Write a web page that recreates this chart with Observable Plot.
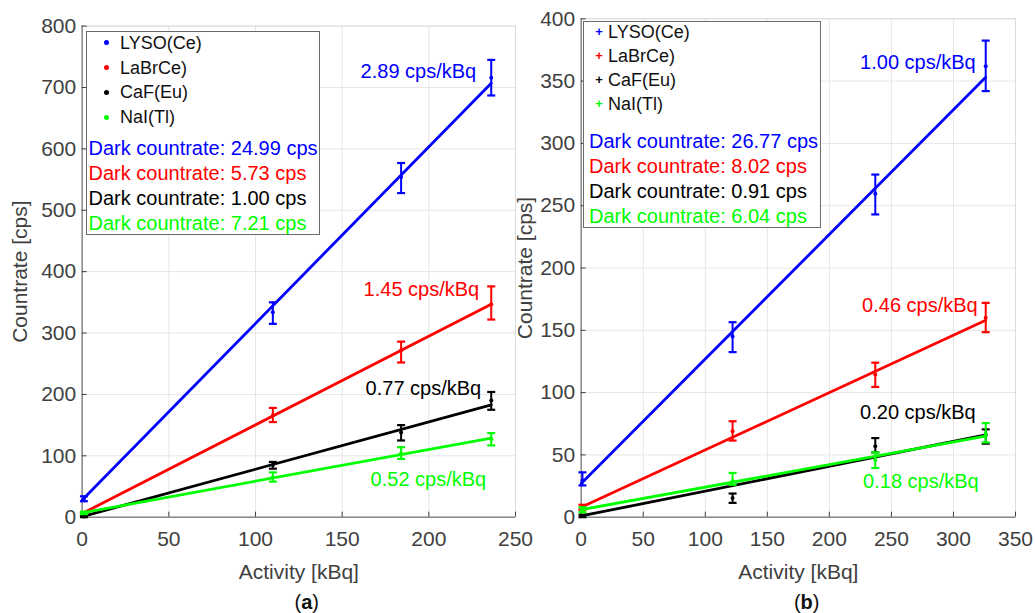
<!DOCTYPE html>
<html>
<head>
<meta charset="utf-8">
<script src="https://cdn.jsdelivr.net/npm/d3@7"></script>
<script src="https://cdn.jsdelivr.net/npm/@observablehq/plot@0.6"></script>
<style>
  body { margin: 0; background: #fff; font-family: "Liberation Sans", Arial, sans-serif; }
  #root { position: relative; width: 1035px; height: 613px; overflow: hidden; background: #fff; }
  .panel { position: absolute; top: 0; }
  .legend { position: absolute; border: 1.5px solid #6b6b6b; background: #fff; box-sizing: border-box; }
  .row { position: absolute; white-space: nowrap; line-height: 24px; height: 24px; }
  .item { font-size: 18px; color: #111; }
  .dark { font-size: 20px; }
  .mk { position: absolute; width: 5px; height: 5px; border-radius: 50%; }
  .plus { position: absolute; font-size: 13px; font-weight: bold; line-height: 13px; width: 10px; text-align: center; }
  .cap { position: absolute; font-size: 20px; color: #111; transform: translate(-50%, -50%); white-space: nowrap; }
</style>
</head>
<body>
<div id="root"></div>
<script>
// ---------- data ----------
const seriesNames = ["LYSO(Ce)", "LaBrCe)", "CaF(Eu)", "NaI(Tl)"];

// panel (a)
const activityA = [1, 110, 184, 236];
const countA = [[30, 334, 554, 716], [6, 166, 272, 347], [1, 85, 138, 190], [7, 65, 104, 127]];
const errLowA = [[26, 315, 528, 687], [4, 155, 252, 322], [0, 79, 125, 175], [5, 58, 95, 117]];
const errHighA = [[34, 350, 577, 745], [8, 178, 286, 376], [2, 90, 150, 204], [9, 73, 114, 137]];
const fitXA = [0, 236];
const fitYA = [[28, 707], [6, 347], [1, 183], [7, 129]];
const slopeA = ["2.89 cps/kBq", "1.45 cps/kBq", "0.77 cps/kBq", "0.52 cps/kBq"];
const darkA = ["24.99", "5.73", "1.00", "7.21"];
const xTicksA = [0, 50, 100, 150, 200, 250];
const yTicksA = [0, 100, 200, 300, 400, 500, 600, 700, 800];

// panel (b)
const activityB = [1, 122, 237, 326];
const countB = [[29.5, 145, 259.5, 362], [8, 69, 114.5, 160], [1, 15.5, 57, 66], [6, 29, 46, 67]];
const errLowB = [[25.5, 132.5, 243, 342], [6, 61.5, 104.5, 148.5], [0, 11.5, 52, 59], [4, 26, 39.5, 60]];
const errHighB = [[36, 156.5, 275, 382.5], [10, 77, 124, 172], [2, 19, 63.5, 70.5], [8, 35.5, 52, 75.5]];
const fitXB = [0, 326];
const fitYB = [[27, 353], [8, 158], [1, 66], [6, 65]];
const slopeB = ["1.00 cps/kBq", "0.46 cps/kBq", "0.20 cps/kBq", "0.18 cps/kBq"];
const darkB = ["26.77", "8.02", "0.91", "6.04"];
const xTicksB = [0, 50, 100, 150, 200, 250, 300, 350];
const yTicksB = [0, 50, 100, 150, 200, 250, 300, 350, 400];

// ---------- styling ----------
const palette = ["#0000ff", "#ff0000", "#000000", "#00ff00"];
const FONT = "'Liberation Sans', Arial, sans-serif";
const capSymbol = {
  draw(ctx, size) {
    const r = Math.sqrt(size / Math.PI);
    ctx.moveTo(-r, 0);
    ctx.lineTo(r, 0);
  }
};

function buildPanel(cfg) {
  const marks = [
    Plot.gridX(cfg.xTicks, {stroke: "#e6e6e6", strokeOpacity: 1}),
    Plot.gridY(cfg.yTicks, {stroke: "#e6e6e6", strokeOpacity: 1}),
    Plot.frame({stroke: "#dcdcdc"}),
    Plot.ruleX([cfg.xTicks[0]], {stroke: "#8a8a8a", strokeWidth: 1.5}),
    Plot.ruleY([cfg.yTicks[0]], {stroke: "#8a8a8a", strokeWidth: 1.5}),
    Plot.axisX({ticks: cfg.xTicks, tickSize: -5, tickPadding: 19, fontSize: 21, color: "#404040",
      label: "Activity [kBq]", labelAnchor: "center", labelOffset: 62, labelArrow: false}),
    Plot.axisY({ticks: cfg.yTicks, tickSize: -5, tickPadding: 11, fontSize: 21, color: "#404040",
      label: "Countrate [cps]", labelAnchor: "center", labelOffset: cfg.yLabelOffset, labelArrow: false})
  ];
  seriesNames.forEach((name, i) => {
    const color = palette[i];
    const rows = cfg.xs.map((x, j) => ({x, y: cfg.counts[i][j], lo: cfg.lows[i][j], hi: cfg.highs[i][j]}));
    const fit = cfg.fitX.map((x, j) => ({x, y: cfg.fitY[i][j]}));
    const o = cfg.slopeOffsets[i];
    marks.push(
      Plot.ruleX(rows, {x: "x", y1: "lo", y2: "hi", stroke: color, strokeWidth: 2}),
      Plot.dot(rows, {x: "x", y: "lo", symbol: capSymbol, r: 4, stroke: color, strokeWidth: 2.2, fill: "none"}),
      Plot.dot(rows, {x: "x", y: "hi", symbol: capSymbol, r: 4, stroke: color, strokeWidth: 2.2, fill: "none"}),
      Plot.dot(rows, {x: "x", y: "y", r: 2, fill: color, stroke: "none"}),
      Plot.line(fit, {x: "x", y: "y", stroke: color, strokeWidth: 2.8}),
      Plot.text([rows[rows.length - 1]], {x: "x", y: "y", text: () => cfg.slopes[i], dx: o[0], dy: o[1],
        textAnchor: "end", lineAnchor: "middle", fontSize: 20, fill: color})
    );
  });
  return Plot.plot({
    width: cfg.width,
    height: cfg.height,
    marginLeft: cfg.margin[0], marginRight: cfg.margin[1], marginTop: cfg.margin[2], marginBottom: cfg.margin[3],
    style: {background: "transparent", fontFamily: FONT, overflow: "visible"},
    x: {domain: [cfg.xTicks[0], cfg.xTicks[cfg.xTicks.length - 1]]},
    y: {domain: [cfg.yTicks[0], cfg.yTicks[cfg.yTicks.length - 1]]},
    marks
  });
}

const root = document.getElementById("root");

function place(el, left) {
  const wrap = document.createElement("div");
  wrap.className = "panel";
  wrap.style.left = left + "px";
  wrap.appendChild(el);
  root.appendChild(wrap);
}

place(buildPanel({
  xs: activityA, counts: countA, lows: errLowA, highs: errHighA, fitX: fitXA, fitY: fitYA,
  slopes: slopeA, xTicks: xTicksA, yTicks: yTicksA,
  width: 540, height: 590, margin: [81.7, 25, 25.6, 73.3], yLabelOffset: 70,
  slopeOffsets: [[-15, -6], [-12, -15], [-10, -12], [-5, 40]]
}), 0);

place(buildPanel({
  xs: activityB, counts: countB, lows: errLowB, highs: errHighB, fitX: fitXB, fitY: fitYB,
  slopes: slopeB, xTicks: xTicksB, yTicks: yTicksB,
  width: 535, height: 590, margin: [80.7, 20, 18.3, 73.3], yLabelOffset: 64,
  slopeOffsets: [[-10, -4], [-8, -12], [-10, -22], [-7, 48]]
}), 500);

function legend(cfg) {
  const box = document.createElement("div");
  box.className = "legend";
  Object.assign(box.style, {left: cfg.left + "px", top: cfg.top + "px", width: cfg.w + "px", height: cfg.h + "px"});
  seriesNames.forEach((name, i) => {
    const cy = cfg.itemTop + i * cfg.itemStep;
    const mk = document.createElement("div");
    if (cfg.plus) {
      mk.className = "plus";
      mk.textContent = "+";
      Object.assign(mk.style, {left: (cfg.markX - 5) + "px", top: (cy - 7) + "px", color: palette[i]});
    } else {
      mk.className = "mk";
      Object.assign(mk.style, {left: (cfg.markX - 2.5) + "px", top: (cy - 2.5) + "px", background: palette[i]});
    }
    box.appendChild(mk);
    const r = document.createElement("div");
    r.className = "row item";
    Object.assign(r.style, {left: cfg.textX + "px", top: (cy - 12) + "px"});
    r.textContent = name;
    box.appendChild(r);
  });
  cfg.dark.forEach((v, i) => {
    const cy = cfg.darkTop + i * cfg.darkStep;
    const r = document.createElement("div");
    r.className = "row dark";
    Object.assign(r.style, {left: cfg.darkX + "px", top: (cy - 12) + "px", color: palette[i]});
    r.textContent = "Dark countrate: " + v + " cps";
    box.appendChild(r);
  });
  root.appendChild(box);
}

legend({left: 86, top: 31, w: 234, h: 204, itemTop: 10.7, itemStep: 24.8, darkTop: 116.3, darkStep: 24.8,
  markX: 19, textX: 33, darkX: 1.5, dark: darkA, plus: false});
legend({left: 583, top: 21, w: 238, h: 207, itemTop: 10, itemStep: 23.9, darkTop: 119, darkStep: 25,
  markX: 15, textX: 24, darkX: 5, dark: darkB, plus: true});

function caption(letter, x, y) {
  const c = document.createElement("div");
  c.className = "cap";
  Object.assign(c.style, {left: x + "px", top: y + "px"});
  c.innerHTML = "(<b>" + letter + "</b>)";
  root.appendChild(c);
}
caption("a", 306.7, 601.7);
caption("b", 806.7, 601.7);
</script>
</body>
</html>
